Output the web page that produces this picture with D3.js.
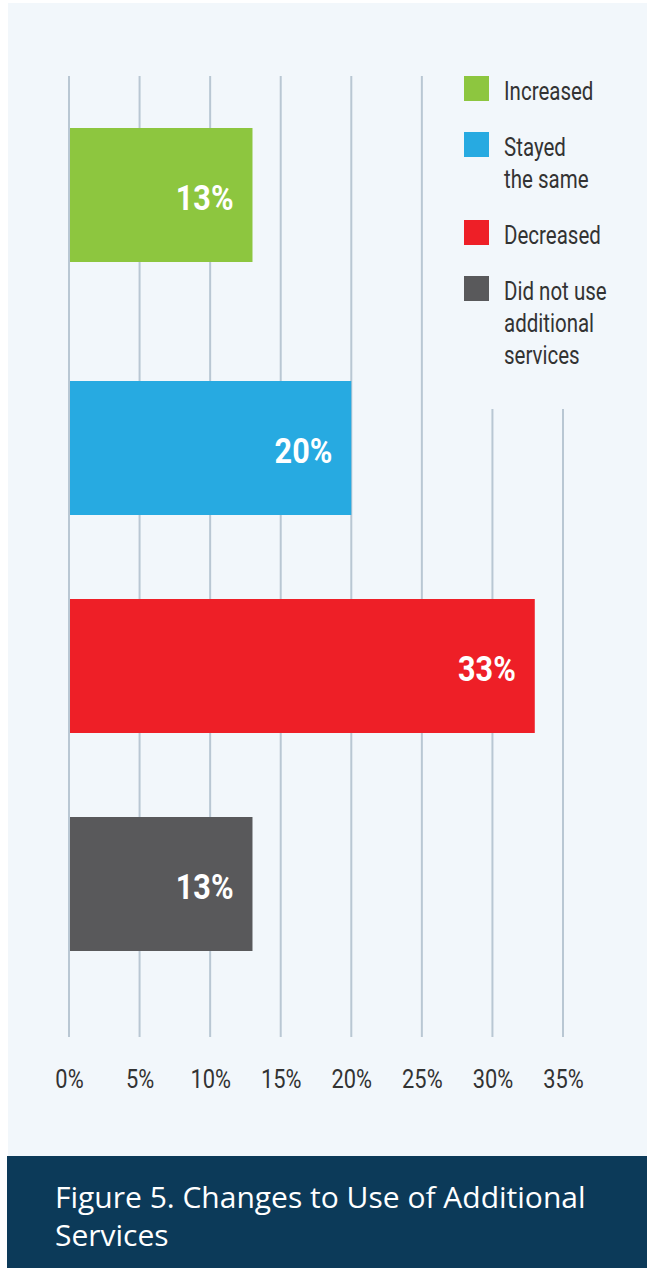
<!DOCTYPE html>
<html>
<head>
<meta charset="utf-8">
<script src="https://cdn.jsdelivr.net/npm/d3@7"></script>
<style>
  html, body { margin: 0; padding: 0; background: #ffffff; }
  svg { display: block; }
</style>
</head>
<body>
<svg id="chart" width="647" height="1270"></svg>
<script>
// Survey response shares
const categories = ["Increased", "Stayed the same", "Decreased", "Did not use additional services"];
const values = [13, 20, 33, 13];
const colors = ["#8DC63F", "#27AAE1", "#EE1F27", "#59595B"];
const legendLines = [["Increased"], ["Stayed", "the same"], ["Decreased"], ["Did not use", "additional", "services"]];
const tickValues = [0, 5, 10, 15, 20, 25, 30, 35];
const tickLabels = ["0%", "5%", "10%", "15%", "20%", "25%", "30%", "35%"];
const titleLines = ["Figure 5. Changes to Use of Additional", "Services"];

const svg = d3.select("#chart");
const W = 647, H = 1270;

// panel background and title band
svg.append("rect").attr("x", 8).attr("y", 3).attr("width", W - 8).attr("height", 1153).attr("fill", "#F2F7FB");
svg.append("rect").attr("x", 7).attr("y", 1156).attr("width", W - 7).attr("height", 112).attr("fill", "#0C3A59");

const gridTop = 76, gridBottom = 1037, legendBottom = 409;

const x = d3.scaleLinear().domain([0, 35]).range([69, 563]);

// rows: evenly stepped, the first row sits a little higher under the legend
const y = d3.scaleBand().domain(categories).range([163, 951]).paddingInner(84 / 218).paddingOuter(0);
const firstRowLift = 35;
const rowTop = (d, i) => y(d) - (i === 0 ? firstRowLift : 0);

// vertical grid lines
svg.append("g").selectAll("line")
  .data(tickValues)
  .join("line")
  .attr("x1", d => x(d)).attr("x2", d => x(d))
  .attr("y1", d => d > 25 ? legendBottom : gridTop)
  .attr("y2", gridBottom)
  .attr("stroke", "#B9C7D3")
  .attr("stroke-width", 2);

// tick labels via axis
const axis = d3.axisBottom(x).tickValues(tickValues).tickSize(0)
  .tickFormat((d, i) => tickLabels[i]);
const axisG = svg.append("g").attr("transform", "translate(0,1061)").call(axis);
axisG.select(".domain").remove();
axisG.selectAll("text")
  .attr("fill", "#333333")
  .attr("font-family", "Roboto, 'Noto Sans', sans-serif")
  .attr("font-size", 26)
  .attr("dy", 0)
  .attr("y", 0)
  .attr("transform", "translate(0,27) scale(0.84,1)");

// bars
const rows = categories.map((c, i) => ({ c, v: values[i], color: colors[i], i }));
svg.append("g").selectAll("rect")
  .data(rows)
  .join("rect")
  .attr("x", x(0) + 1)
  .attr("y", d => rowTop(d.c, d.i))
  .attr("width", d => x(d.v) - x(0) - 1)
  .attr("height", y.bandwidth())
  .attr("fill", d => d.color);

// value labels inside bars
svg.append("g").selectAll("text")
  .data(rows)
  .join("text")
  .attr("transform", d => `translate(${x(d.v) - 19},${rowTop(d.c, d.i) + y.bandwidth() / 2 + 15}) scale(0.85,1)`)
  .attr("text-anchor", "end")
  .attr("fill", "#ffffff")
  .attr("font-family", "Roboto, 'Noto Sans', sans-serif")
  .attr("font-weight", 700)
  .attr("font-size", 36)
  .text(d => d.v + "%");

// legend
const legend = svg.append("g");
let legendY = 76;
legendLines.forEach((lines, i) => {
  legend.append("rect").attr("x", 464).attr("y", legendY).attr("width", 25).attr("height", 25).attr("fill", colors[i]);
  lines.forEach((ln, j) => {
    legend.append("text")
      .attr("transform", `translate(504,${legendY + 24 + j * 32}) scale(0.82,1)`)
      .attr("fill", "#333333")
      .attr("font-family", "Roboto, 'Noto Sans', sans-serif")
      .attr("font-size", 25)
      .text(ln);
  });
  legendY += lines.length * 32 + 24;
});

// title
svg.append("g").selectAll("text")
  .data(titleLines)
  .join("text")
  .attr("x", 55)
  .attr("y", (d, i) => 1208 + i * 38)
  .attr("fill", "#ffffff")
  .attr("font-family", "'Open Sans', 'Noto Sans', sans-serif")
  .attr("font-size", 30)
  .text(d => d);
</script>
</body>
</html>
